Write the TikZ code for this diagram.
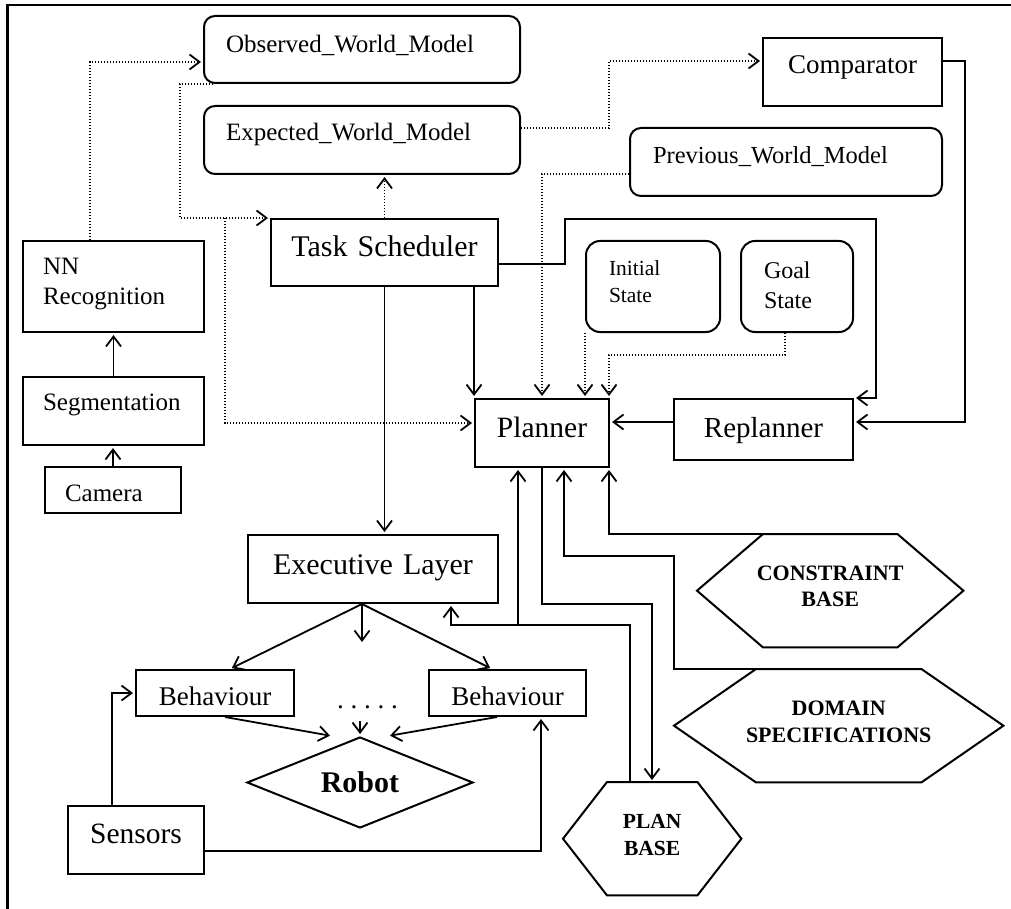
\documentclass[tikz,border=0pt]{standalone}
\usepackage{fontspec}
\setmainfont{Liberation Serif}
\usetikzlibrary{arrows.meta,calc,shapes.geometric}
\newcommand\hexdraw[2]{\draw[hexline] ($(#1.north west)+(#2,0)$) -- ($(#1.north east)+(-#2,0)$) -- (#1.east) -- ($(#1.south east)+(-#2,0)$) -- ($(#1.south west)+(#2,0)$) -- (#1.west) -- cycle;}
\newcommand\fs[2]{\fontsize{#1}{#2}\selectfont}
\begin{document}
\begin{tikzpicture}[x=1pt,y=-1pt,
  box/.style={draw, line width=2pt, anchor=north west, inner xsep=0pt, inner ysep=0pt},
  rbox/.style={box, rounded corners=11pt},
  sbox/.style={box, rounded corners=14pt},
  hexnode/.style={anchor=north west, inner sep=0pt, align=center, text height=46pt, text depth=67pt, minimum height=113pt},
  hexline/.style={line width=2pt, line join=miter},
  ln/.style={line width=1.8pt},
  arr/.style={ln, -{Straight Barb[length=10pt,width=15pt,line width=1.8pt]}, shorten >=2pt},
  dotarr/.style={arr, line width=1.6pt, dash pattern=on 1.4pt off 1.6pt},
]
\useasboundingbox (0,0) rectangle (1011,909);
% frame
\draw[line width=2.8pt] (7.5,909) -- (7.5,5) -- (1011,5);

% nodes
\node[rbox, minimum width=316pt, minimum height=67pt, text width=272pt, align=left, text height=37pt, text depth=30pt, font=\fs{25}{30}] (obs) at (203,15) {Observed\_World\_Model};
\node[rbox, minimum width=316pt, minimum height=68pt, text width=272pt, align=left, text height=35pt, text depth=33pt, font=\fs{25}{30}] (exp) at (203,105) {Expected\_World\_Model};
\node[box, minimum width=227pt, minimum height=67pt, text width=217pt, align=center, text height=38pt, text depth=29pt, font=\fs{30}{36}] (ts) at (270,218) {Task Scheduler};
\node[box, minimum width=181pt, minimum height=91pt, text width=141pt, align=left, text height=33pt, text depth=58pt, font=\fs{25}{30}] (nn) at (22,240) {NN\\Recognition};
\node[box, minimum width=181pt, minimum height=68pt, text width=141pt, align=left, text height=33pt, text depth=35pt, font=\fs{25}{30}] (seg) at (22,376) {Segmentation};
\node[box, minimum width=136pt, minimum height=46pt, text width=96pt, align=left, text height=34pt, text depth=12pt, font=\fs{25}{30}] (cam) at (44,466) {Camera};
\node[box, minimum width=179pt, minimum height=68pt, text width=169pt, align=center, text height=36pt, text depth=32pt, font=\fs{27}{32}] (cmp) at (762,37) {Comparator};
\node[rbox, minimum width=312pt, minimum height=68pt, text width=266pt, align=left, text height=36pt, text depth=32pt, font=\fs{24.5}{29}] (prev) at (629,127) {Previous\_World\_Model};
\node[sbox, minimum width=134pt, minimum height=91pt, text width=88pt, align=left, text height=35pt, text depth=56pt, font=\fs{21.5}{27}] (ini) at (585,240) {Initial\\State};
\node[sbox, minimum width=112pt, minimum height=91pt, text width=66pt, align=left, text height=37pt, text depth=54pt, font=\fs{24}{30}] (goal) at (740,240) {Goal\\State};
\node[box, minimum width=134pt, minimum height=68pt, text width=124pt, align=center, text height=38pt, text depth=30pt, font=\fs{29.5}{35}] (pl) at (474,398) {Planner};
\node[box, minimum width=179pt, minimum height=61pt, text width=169pt, align=center, text height=38pt, text depth=23pt, font=\fs{29}{35}] (rp) at (673,398) {Replanner};
\node[box, minimum width=250pt, minimum height=68pt, text width=240pt, align=center, text height=39pt, text depth=29pt, font=\fs{30}{36}] (ex) at (247,534) {Executive Layer};
\node[box, minimum width=158pt, minimum height=46pt, text width=148pt, align=center, text height=35pt, text depth=11pt, font=\fs{27}{32}] (bl) at (135,669) {Behaviour};
\node[box, minimum width=157pt, minimum height=46pt, text width=147pt, align=center, text height=35pt, text depth=11pt, font=\fs{27}{32}] (br) at (428,669) {Behaviour};
\node[box, minimum width=136pt, minimum height=68pt, text width=126pt, align=center, text height=37pt, text depth=31pt, font=\fs{29.5}{35}] (sen) at (67,805) {Sensors};
\node[diamond, draw, line width=2pt, aspect=2.48, minimum width=226pt, minimum height=91pt, inner sep=0pt, font=\bfseries\fs{30}{36}] (rob) at (360,782.5) {Robot};
\node[font=\fs{27}{30}, anchor=base, inner sep=0pt] (dots) at (367.5,708) {.\ .\ .\ .\ .};

\node[hexnode, minimum width=266pt, text width=246pt, font=\bfseries\fs{22}{26.5}] (cb) at (697,534) {CONSTRAINT\\BASE};
\hexdraw{cb}{66}
\node[hexnode, minimum width=329pt, text width=309pt, font=\bfseries\fs{22}{27}] (dom) at (674,669) {DOMAIN\\SPECIFICATIONS};
\hexdraw{dom}{82}
\node[hexnode, minimum width=178pt, text width=158pt, font=\bfseries\fs{21.5}{27}] (pb) at (563,782) {PLAN\\BASE};
\hexdraw{pb}{44}

% dotted connectors
\draw[dotarr] ($(nn.north west)+(68,0)$) |- ($(obs.south west)+(0,-22)$);
\draw[dotarr] ($(obs.south west)+(10,0)$) -- ++(-33,0) |- (ts.north west);
\draw[dotarr] ($(ts.north west)+(-45,0)$) |- ($(pl.west)+(0,-10)$);
\draw[dotarr] (ts.north) -- (ts.north |- exp.south);
\draw[dotarr] ($(exp.east)+(0,-12)$) -- ++(88,0) |- ($(cmp.west)+(0,-11)$);
\draw[dotarr] ($(prev.west)+(0,12)$) -| (pl.north);
\draw[dotarr] (ini.south west) -- (ini.south west |- pl.north);
\draw[dotarr] ($(goal.south west)+(45,0)$) -- ++(0,22) -| ($(pl.north east)+(-1,0)$);

% vision chain
\draw[arr] (seg.north) -- (nn.south);
\draw[arr] (cam.north) -- (cam.north |- seg.south);

% solid connectors
\draw[arr] ($(cmp.east)+(0,-11)$) -- ++(22,0) |- ($(rp.east)+(0,-7.5)$);
\draw[arr] ($(ts.east)+(0,11.5)$) -- ++(66,0) -- ++(0,-45) -| ($(rp.north east)+(22,0)$) -- (rp.north east);
\draw[arr] (pl.north west |- ts.south) -- (pl.north west);
\draw[arr] (ts.south) -- (ts.south |- ex.north);
\draw[arr] ($(rp.west)+(0,-7.5)$) -- ($(pl.east |- rp.west)+(0,-7.5)$);

\coordinate (j) at ($(pl.south west)+(44,157)$);
\draw[ln] ($(pb.north west)+(67,0)$) |- (j);
\draw[arr] (j) -- (j |- pl.south);
\draw[arr] (j) -| ($(ex.south west)+(204,0)$);
\draw[arr] (pl.south) -- ++(0,136) -| ($(pb.north west)+(89,0)$);
\draw[arr] ($(dom.north west)+(82,0)$) -- ++(-82,0) -- ++(0,-113) -| ($(pl.south)+(22,0)$);
\draw[arr] ($(cb.north west)+(66,0)$) -| ($(pl.south east)+(-1,0)$);

\draw[arr] ($(ex.south)+(-11,0)$) -- ($(bl.north west)+(95,0)$);
\draw[arr] ($(ex.south)+(-11,0)$) -- ($(br.north west)+(64,0)$);
\draw[arr] ($(ex.south)+(-11,0)$) -- ++(0,40);
\draw[arr] ($(rob.north)+(0,-15)$) -- (rob.north);
\draw[arr] ($(bl.south west)+(90,0)$) -- ($(rob.north)+(-28,0)$);
\draw[arr] ($(br.south west)+(69,0)$) -- ($(rob.north)+(28,0)$);
\draw[arr] ($(sen.north west)+(45,0)$) |- (bl.west);
\draw[arr] ($(sen.east)+(0,11)$) -| ($(br.south west)+(113,0)$);
\end{tikzpicture}
\end{document}
